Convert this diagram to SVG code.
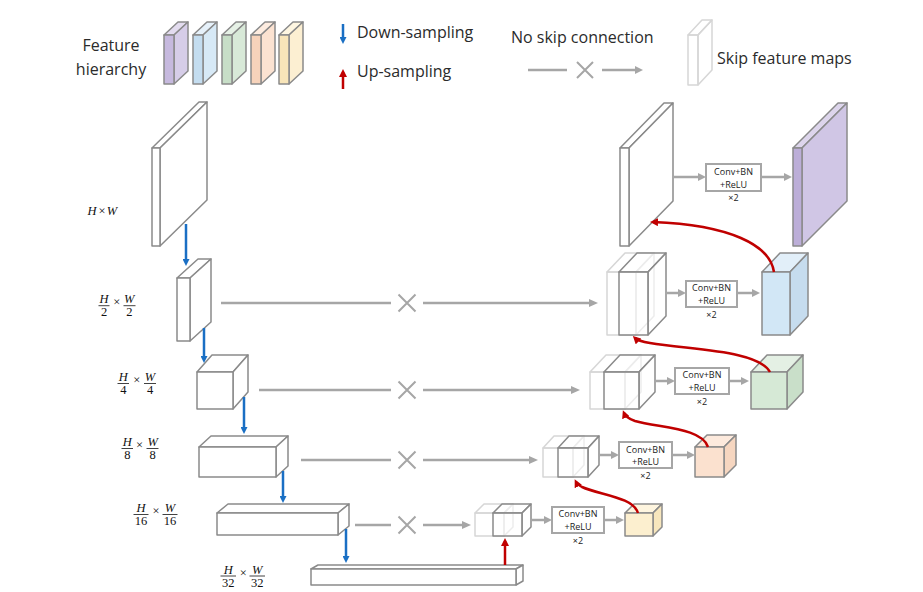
<svg xmlns="http://www.w3.org/2000/svg" width="923" height="592" viewBox="0 0 923 592">
<style>
.bx rect, .bx polygon { stroke: #8a8a8a; stroke-width: 1.5; stroke-linejoin: round; }
.w rect, .w polygon { fill: #ffffff; }
.dk rect, .dk polygon { fill: #ffffff; fill-opacity: 0.55; }
.fa rect, .fa polygon { fill: none; stroke: #d6d6d6; stroke-width: 1.5; stroke-linejoin: round; }
.gl { stroke: #a6a6a6; stroke-width: 2.5; fill: none; }
.gx { stroke: #a6a6a6; stroke-width: 2; fill: none; }
.bl { stroke: #1a6fc4; stroke-width: 2.5; fill: none; }
.rd { stroke: #c00000; stroke-width: 2.5; fill: none; }
.cv { fill: #ffffff; stroke: #a6a6a6; stroke-width: 2; }
.lg { font-family: "Open Sans", "Noto Sans", sans-serif; font-size: 16px; fill: #2b2b2b; }
.ct { font-family: "Open Sans", "Noto Sans", sans-serif; font-size: 9px; fill: #222222; text-anchor: middle; }
.mi { font-family: "Liberation Serif", "DejaVu Serif", serif; font-style: italic; font-size: 12.5px; fill: #111111; text-anchor: middle; }
.mn { font-family: "Liberation Serif", "DejaVu Serif", serif; font-size: 12.5px; fill: #111111; text-anchor: middle; }
.fb { stroke: #111111; stroke-width: 0.8; }
</style>
<defs>
<marker id="ab" markerUnits="userSpaceOnUse" markerWidth="7" markerHeight="7" refX="0" refY="3.5" orient="auto"><path d="M0,0 L7,3.5 L0,7 z" fill="#1a6fc4"/></marker>
<marker id="ag" markerUnits="userSpaceOnUse" markerWidth="9" markerHeight="8" refX="0" refY="4" orient="auto"><path d="M0,0 L9,4 L0,8 z" fill="#a6a6a6"/></marker>
<marker id="ags" markerUnits="userSpaceOnUse" markerWidth="8" markerHeight="8" refX="0" refY="4" orient="auto"><path d="M0,0 L8,4 L0,8 z" fill="#a6a6a6"/></marker>
<marker id="ar" markerUnits="userSpaceOnUse" markerWidth="8" markerHeight="8" refX="5" refY="4" orient="auto"><path d="M0,0 L8,4 L0,8 z" fill="#c00000"/></marker>
</defs>

<g id="legend">
  <text class="lg" x="111" y="51" text-anchor="middle">Feature</text>
  <text class="lg" x="111" y="75" text-anchor="middle">hierarchy</text>
  <g class="bx">
    <polygon points="164,35 174,35 188,22 178,22" fill="#e3dcef"/><polygon points="174,35 188,22 188,71 174,84" fill="#d6cde8"/><rect x="164" y="35" width="10" height="49" fill="#c6b9de"/>
    <polygon points="193,35 203,35 217,22 207,22" fill="#e6f1fa"/><polygon points="203,35 217,22 217,71 203,84" fill="#d7e9f6"/><rect x="193" y="35" width="10" height="49" fill="#c4ddf0"/>
    <polygon points="222,35 232,35 246,22 236,22" fill="#e6f1e6"/><polygon points="232,35 246,22 246,71 232,84" fill="#d8e9d8"/><rect x="222" y="35" width="10" height="49" fill="#c7dec7"/>
    <polygon points="251,35 261,35 275,22 265,22" fill="#fdece0"/><polygon points="261,35 275,22 275,71 261,84" fill="#fbe2d1"/><rect x="251" y="35" width="10" height="49" fill="#f7d3bb"/>
    <polygon points="279,35 289,35 303,22 293,22" fill="#fef6e1"/><polygon points="289,35 303,22 303,71 289,84" fill="#fcefd2"/><rect x="279" y="35" width="10" height="49" fill="#f8e5b9"/>
  </g>
  <line class="bl" x1="343" y1="24" x2="343" y2="37" marker-end="url(#ab)"/>
  <text class="lg" x="357" y="38">Down-sampling</text>
  <line class="rd" x1="343" y1="89" x2="343" y2="72" marker-end="url(#ar)"/>
  <text class="lg" x="357" y="77">Up-sampling</text>
  <text class="lg" x="511" y="43">No skip connection</text>
  <line class="gl" x1="528" y1="70" x2="567" y2="70"/>
  <path class="gx" d="M577,62 L593,78 M593,62 L577,78"/>
  <line class="gl" x1="602" y1="70" x2="635" y2="70" marker-end="url(#ags)"/>
  <g class="fa"><polygon points="688,35 698,35 712,20 702,20"/><polygon points="698,35 712,20 712,70 698,85"/><rect x="688" y="35" width="10" height="50"/></g>
  <text class="lg" x="717" y="64">Skip feature maps</text>
</g>

<g id="labels">
  <text class="mi" x="92" y="214.5">H</text><text class="mn" x="102" y="214.5">×</text><text class="mi" x="112" y="214.5">W</text>
  <text class="mi" x="104" y="303">H</text><line class="fb" x1="98.5" y1="305.7" x2="109.5" y2="305.7"/><text class="mn" x="104" y="316">2</text><text class="mn" x="116.7" y="306">×</text><text class="mi" x="129.3" y="303">W</text><line class="fb" x1="123.5" y1="305.7" x2="135.5" y2="305.7"/><text class="mn" x="129.3" y="316">2</text>
  <text class="mi" x="123.3" y="381">H</text><line class="fb" x1="117.5" y1="383.5" x2="129" y2="383.5"/><text class="mn" x="123.3" y="393.8">4</text><text class="mn" x="136.7" y="384">×</text><text class="mi" x="150" y="381">W</text><line class="fb" x1="144" y1="383.5" x2="156" y2="383.5"/><text class="mn" x="150" y="393.8">4</text>
  <text class="mi" x="127.3" y="446">H</text><line class="fb" x1="121.5" y1="448.5" x2="133" y2="448.5"/><text class="mn" x="127.3" y="458.8">8</text><text class="mn" x="139.5" y="449">×</text><text class="mi" x="152.7" y="446">W</text><line class="fb" x1="146.5" y1="448.5" x2="158.5" y2="448.5"/><text class="mn" x="152.7" y="458.8">8</text>
  <text class="mi" x="141" y="512">H</text><line class="fb" x1="133.5" y1="514.5" x2="148.5" y2="514.5"/><text class="mn" x="141" y="524.8">16</text><text class="mn" x="156" y="515">×</text><text class="mi" x="170" y="512">W</text><line class="fb" x1="162.5" y1="514.5" x2="177.5" y2="514.5"/><text class="mn" x="170" y="524.8">16</text>
  <text class="mi" x="228.3" y="573.5">H</text><line class="fb" x1="220.5" y1="576" x2="236" y2="576"/><text class="mn" x="228.3" y="586.5">32</text><text class="mn" x="243.3" y="576.5">×</text><text class="mi" x="257.3" y="573.5">W</text><line class="fb" x1="249.5" y1="576" x2="265" y2="576"/><text class="mn" x="257.3" y="586.5">32</text>
</g>

<g id="enc1" class="bx w"><polygon points="152,148 160,148 207,102 199,102"/><polygon points="160,148 207,102 207,200 160,246"/><rect x="152" y="148" width="8" height="98"/></g>
<g id="enc2" class="bx w"><polygon points="177,278 190,278 211,259 198,259"/><polygon points="190,278 211,259 211,322 190,341"/><rect x="177" y="278" width="13" height="63"/></g>
<g id="enc3" class="bx w"><polygon points="197,372 233,372 248,355 212,355"/><polygon points="233,372 248,355 248,392 233,409"/><rect x="197" y="372" width="36" height="37"/></g>
<g id="enc4" class="bx w"><polygon points="199,447 276,447 288,436 211,436"/><polygon points="276,447 288,436 288,466 276,477"/><rect x="199" y="447" width="77" height="30"/></g>
<g id="enc5" class="bx w"><polygon points="217,513 338,513 349,504 228,504"/><polygon points="338,513 349,504 349,526 338,535"/><rect x="217" y="513" width="121" height="22"/></g>
<g id="enc6" class="bx w"><polygon points="311,569 516,569 523,565 318,565"/><polygon points="516,569 523,565 523,581 516,585"/><rect x="311" y="569" width="205" height="16"/></g>

<g id="dec1" class="bx w"><polygon points="620,148 629,148 673,103 664,103"/><polygon points="629,148 673,103 673,201 629,246"/><rect x="620" y="148" width="9" height="98"/></g>
<g id="dec2">
  <g class="fa"><polygon points="607,272 636,272 654,253 625,253"/><polygon points="636,272 654,253 654,316 636,335"/><rect x="607" y="272" width="29" height="63"/></g>
  <g class="bx dk"><polygon points="619,272 648,272 666,253 637,253"/><polygon points="648,272 666,253 666,316 648,335"/><rect x="619" y="272" width="29" height="63"/></g>
</g>
<g id="dec3">
  <g class="fa"><polygon points="590,372 625,372 641,355 606,355"/><polygon points="625,372 641,355 641,392 625,409"/><rect x="590" y="372" width="35" height="37"/></g>
  <g class="bx dk"><polygon points="604,372 639,372 655,355 620,355"/><polygon points="639,372 655,355 655,392 639,409"/><rect x="604" y="372" width="35" height="37"/></g>
</g>
<g id="dec4">
  <g class="fa"><polygon points="543,448 573,448 584,436 554,436"/><polygon points="573,448 584,436 584,465 573,477"/><rect x="543" y="448" width="30" height="29"/></g>
  <g class="bx dk"><polygon points="558,448 588,448 599,436 569,436"/><polygon points="588,448 599,436 599,465 588,477"/><rect x="558" y="448" width="30" height="29"/></g>
</g>
<g id="dec5">
  <g class="fa"><polygon points="475,513 504,513 513,504 484,504"/><polygon points="504,513 513,504 513,527 504,536"/><rect x="475" y="513" width="29" height="23"/></g>
  <g class="bx dk"><polygon points="493,513 522,513 531,504 502,504"/><polygon points="522,513 531,504 531,527 522,536"/><rect x="493" y="513" width="29" height="23"/></g>
</g>

<g id="out1" class="bx"><polygon points="793,148 802,148 847,103 838,103" fill="#ddd5ec"/><polygon points="802,148 847,103 847,201 802,246" fill="#d0c6e5"/><rect x="793" y="148" width="9" height="98" fill="#bcaed8"/></g>
<g id="out2" class="bx"><polygon points="762,272 790,272 808,253 780,253" fill="#e2eff9"/><polygon points="790,272 808,253 808,316 790,335" fill="#c6dcee"/><rect x="762" y="272" width="28" height="63" fill="#d2e7f6"/></g>
<g id="out3" class="bx"><polygon points="751,372 787,372 803,355 767,355" fill="#e4f0e4"/><polygon points="787,372 803,355 803,392 787,409" fill="#c9dfc9"/><rect x="751" y="372" width="36" height="37" fill="#d6e9d6"/></g>
<g id="out4" class="bx"><polygon points="695,447 724,447 736,435 707,435" fill="#fdeadd"/><polygon points="724,447 736,435 736,465 724,477" fill="#f6d6c0"/><rect x="695" y="447" width="29" height="30" fill="#fbe1cf"/></g>
<g id="out5" class="bx"><polygon points="625,513 653,513 662,504 634,504" fill="#fef5df"/><polygon points="653,513 662,504 662,527 653,536" fill="#f7e6bd"/><rect x="625" y="513" width="28" height="23" fill="#fcefcf"/></g>

<g id="conv1"><rect class="cv" x="706" y="164" width="55" height="27"/><text class="ct" x="733.5" y="174.5">Conv+BN</text><text class="ct" x="733.5" y="187.5">+ReLU</text><text class="ct" x="733.5" y="201">×2</text></g>
<g id="conv2"><rect class="cv" x="686" y="281" width="51" height="26"/><text class="ct" x="711.5" y="291">Conv+BN</text><text class="ct" x="711.5" y="304">+ReLU</text><text class="ct" x="711.5" y="317.5">×2</text></g>
<g id="conv3"><rect class="cv" x="675" y="368" width="54" height="26"/><text class="ct" x="702" y="378.3">Conv+BN</text><text class="ct" x="702" y="391">+ReLU</text><text class="ct" x="702" y="404.5">×2</text></g>
<g id="conv4"><rect class="cv" x="619" y="442" width="53" height="26"/><text class="ct" x="645.5" y="452.5">Conv+BN</text><text class="ct" x="645.5" y="465">+ReLU</text><text class="ct" x="645.5" y="478.5">×2</text></g>
<g id="conv5"><rect class="cv" x="552" y="507" width="52" height="26"/><text class="ct" x="578" y="516.5">Conv+BN</text><text class="ct" x="578" y="530">+ReLU</text><text class="ct" x="578" y="543.5">×2</text></g>

<g id="connectors">
  <line class="bl" x1="186" y1="224" x2="186" y2="259" marker-end="url(#ab)"/>
  <line class="bl" x1="204" y1="328" x2="204" y2="356" marker-end="url(#ab)"/>
  <line class="bl" x1="244" y1="397" x2="244" y2="427" marker-end="url(#ab)"/>
  <line class="bl" x1="283" y1="471" x2="283" y2="496" marker-end="url(#ab)"/>
  <line class="bl" x1="346" y1="529" x2="346" y2="556" marker-end="url(#ab)"/>

  <line class="gl" x1="221" y1="303" x2="391" y2="303"/><path class="gx" d="M398.5,294.5 L415.5,311.5 M415.5,294.5 L398.5,311.5"/><line class="gl" x1="423" y1="303" x2="589" y2="303" marker-end="url(#ag)"/>
  <line class="gl" x1="259" y1="390" x2="391" y2="390"/><path class="gx" d="M398.5,381.5 L415.5,398.5 M415.5,381.5 L398.5,398.5"/><line class="gl" x1="423" y1="390" x2="571" y2="390" marker-end="url(#ag)"/>
  <line class="gl" x1="301" y1="460" x2="391" y2="460"/><path class="gx" d="M398.5,451.5 L415.5,468.5 M415.5,451.5 L398.5,468.5"/><line class="gl" x1="423" y1="460" x2="529" y2="460" marker-end="url(#ag)"/>
  <line class="gl" x1="355" y1="525" x2="391" y2="525"/><path class="gx" d="M398.5,516.5 L415.5,533.5 M415.5,516.5 L398.5,533.5"/><line class="gl" x1="423" y1="525" x2="462" y2="525" marker-end="url(#ag)"/>

  <line class="gl" x1="673" y1="177" x2="698" y2="177" marker-end="url(#ags)"/><line class="gl" x1="761" y1="177" x2="784" y2="177" marker-end="url(#ags)"/>
  <line class="gl" x1="667" y1="293" x2="678" y2="293" marker-end="url(#ags)"/><line class="gl" x1="737" y1="293" x2="752" y2="293" marker-end="url(#ags)"/>
  <line class="gl" x1="655" y1="381" x2="667" y2="381" marker-end="url(#ags)"/><line class="gl" x1="729" y1="381" x2="741" y2="381" marker-end="url(#ags)"/>
  <line class="gl" x1="599" y1="455" x2="611" y2="455" marker-end="url(#ags)"/><line class="gl" x1="672" y1="455" x2="687" y2="455" marker-end="url(#ags)"/>
  <line class="gl" x1="531" y1="520" x2="544" y2="520" marker-end="url(#ags)"/><line class="gl" x1="604" y1="520" x2="616" y2="520" marker-end="url(#ags)"/>

  <path class="rd" d="M774,272 C770,245 730,225 653,222" marker-end="url(#ar)"/>
  <path class="rd" d="M770,372 C758,350 690,350 650,343 Q638,341 635,338" marker-end="url(#ar)"/>
  <path class="rd" d="M708,447 C702,428 660,428 635,421 Q626,418 624,413" marker-end="url(#ar)"/>
  <path class="rd" d="M638,513 C633,497 600,495 582,487 Q577,484 576,482" marker-end="url(#ar)"/>
  <line class="rd" x1="505" y1="565" x2="505" y2="541" marker-end="url(#ar)"/>
</g>
</svg>
